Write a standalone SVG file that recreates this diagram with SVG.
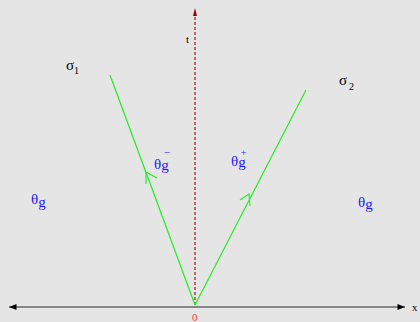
<svg xmlns="http://www.w3.org/2000/svg" width="420" height="322" viewBox="0 0 420 322">
<style>
.lbl{font-family:"Liberation Serif",serif;}
.blue{fill:#1a1aff;}
.green{stroke:#22ee22;stroke-width:1.2;fill:none;}
</style>
<defs>
<marker id="ah" viewBox="0 0 10 8" refX="10" refY="4" markerWidth="10" markerHeight="6" markerUnits="userSpaceOnUse" orient="auto-start-reverse">
<path d="M0,0 L10,4 L0,8 Z" fill="#000"/>
</marker>
</defs>
<rect width="420" height="322" fill="#e5e5e5"/>
<g id="connectors">
<line x1="9" y1="307" x2="405" y2="307" stroke="#666" stroke-width="1.3" marker-start="url(#ah)" marker-end="url(#ah)"/>
<line x1="195" y1="305" x2="195" y2="16" stroke="#990000" stroke-width="1.1" stroke-dasharray="3,2"/>
<path d="M193,16 L195,8 L197,16 Z" fill="#990000"/>
<line class="green" x1="195" y1="305" x2="110" y2="75"/>
<line class="green" x1="195" y1="305" x2="306" y2="90"/>
<path class="green" d="M146,184 L146,172 L157,178"/>
<path class="green" d="M240,200 L249,194 L250,206"/>
</g>
<g id="labels">
<text class="lbl" x="66" y="70" font-size="15">σ<tspan font-size="10" dy="4">1</tspan></text>
<text class="lbl" x="339" y="85" font-size="15">σ<tspan font-size="10" dx="2" dy="5">2</tspan></text>
<text class="lbl" x="186" y="43" font-size="11">t</text>
<text class="lbl" x="412" y="311" font-size="11">x</text>
<text class="lbl" x="192" y="321" font-size="11" fill="#ff3333">0</text>
<text class="lbl blue" x="31" y="204" font-size="15">θ<tspan dy="3">g</tspan></text>
<text class="lbl blue" x="358" y="207" font-size="15">θ<tspan dy="2">g</tspan></text>
<text class="lbl blue" x="154" y="169" font-size="15">θ<tspan dy="1">g</tspan><tspan font-size="11" dx="-5" dy="-14">−</tspan></text>
<text class="lbl blue" x="231" y="166" font-size="15">θ<tspan dy="1">g</tspan><tspan font-size="10" dx="-5" dy="-11">+</tspan></text>
</g>
</svg>
